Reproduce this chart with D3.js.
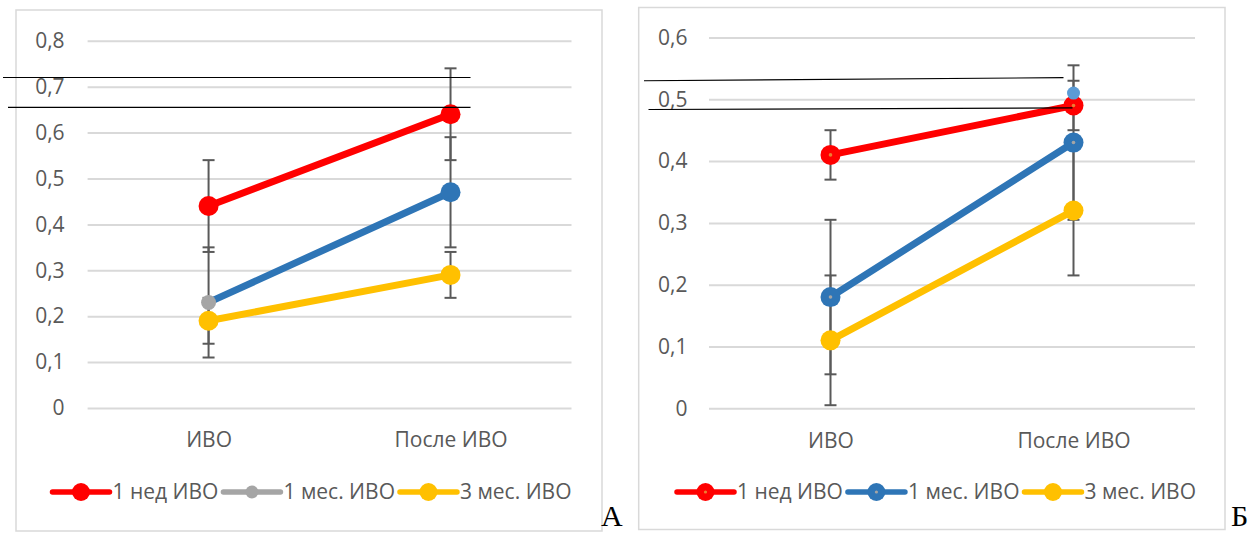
<!DOCTYPE html>
<html><head><meta charset="utf-8">
<script src="https://cdn.jsdelivr.net/npm/d3@7"></script>
<style>
html,body{margin:0;padding:0;background:#fff;}
svg{display:block;}
.lbl{font-family:"Open Sans","Noto Sans",sans-serif;fill:#595959;}
</style></head><body>
<svg id="chart" width="1250" height="533"></svg>
<script>
// ---------- data ----------
const categories = ["ИВО", "После ИВО"];
const seriesNames = ["1 нед ИВО", "1 мес. ИВО", "3 мес. ИВО"];
const panelLabels = ["А", "Б"];

// Panel A
const aTicks = [0, 0.1, 0.2, 0.3, 0.4, 0.5, 0.6, 0.7, 0.8];
const aTickLabels = ["0", "0,1", "0,2", "0,3", "0,4", "0,5", "0,6", "0,7", "0,8"];
const aWeek1 = [0.44, 0.64];
const aMonth1 = [0.23, 0.47];
const aMonth3 = [0.19, 0.29];
const aErrWeek1 = [0.10, 0.10];
const aErrMonth1 = [0.12, 0.12];
const aErrMonth3 = [0.05, 0.05];
const aRefLines = [[0.720, 0.720], [0.655, 0.655]];

// Panel B
const bTicks = [0, 0.1, 0.2, 0.3, 0.4, 0.5, 0.6];
const bTickLabels = ["0", "0,1", "0,2", "0,3", "0,4", "0,5", "0,6"];
const bWeek1 = [0.41, 0.49];
const bMonth1 = [0.18, 0.43];
const bMonth3 = [0.11, 0.32];
const bErrWeek1 = [0.04, 0.04];
const bErrMonth1 = [0.125, 0.125];
const bErrMonth3 = [0.105, 0.105];
const bExtra = [null, 0.51];
const bRefLines = [[0.530, 0.535], [0.4835, 0.486]];

// ---------- style ----------
const RED = "#ff0000", BLUE = "#2e75b6", GRAY = "#a5a5a5", YELLOW = "#ffc000", LIGHTBLUE = "#5b9bd5";
const FONT = 21;

const svg = d3.select("#chart");
svg.append("rect").attr("width", 1250).attr("height", 533).attr("fill", "#fff");

function drawPanel(cfg) {
  const g = svg.append("g");
  // frame
  g.append("rect").attr("x", cfg.frame[0]).attr("y", cfg.frame[1])
    .attr("width", cfg.frame[2] - cfg.frame[0]).attr("height", cfg.frame[3] - cfg.frame[1])
    .attr("fill", "none").attr("stroke", "#d9d9d9").attr("stroke-width", 1.5);

  const x = d3.scalePoint().domain(categories).range([cfg.plot[0], cfg.plot[1]]).padding(0.5);
  const y = d3.scaleLinear().domain([0, cfg.ticks[cfg.ticks.length - 1]]).range([cfg.plot[3], cfg.plot[2]]);
  const W = cfg.plot[1] - cfg.plot[0];

  // gridlines + tick labels
  const ya = g.append("g").attr("transform", `translate(${cfg.plot[0]},0)`)
    .call(d3.axisLeft(y).tickValues(cfg.ticks).tickSize(-W).tickPadding(cfg.tickPad)
      .tickFormat((d, i) => cfg.tickLabels[i]));
  ya.select(".domain").remove();
  ya.selectAll("line").attr("stroke", "#d9d9d9").attr("stroke-width", 2);
  ya.selectAll("text").attr("class", "lbl").attr("font-size", FONT).attr("fill", "#595959")
    .attr("font-family", null);

  // category labels
  const xa = g.append("g").attr("transform", `translate(0,${cfg.plot[3]})`)
    .call(d3.axisBottom(x).tickSize(0).tickPadding(0));
  xa.select(".domain").remove();
  xa.selectAll("text").attr("class", "lbl").attr("font-size", FONT).attr("fill", "#595959")
    .attr("font-family", null).attr("y", 32).attr("dy", "0.35em");

  // error bars
  const cap = 6;
  cfg.series.forEach(s => {
    s.values.forEach((v, i) => {
      const cx = x(categories[i]);
      const lo = y(v - s.err[i]), hi = y(v + s.err[i]);
      const eg = g.append("g").attr("stroke", "#595959").attr("stroke-width", 2);
      eg.append("line").attr("x1", cx).attr("x2", cx).attr("y1", lo).attr("y2", hi);
      eg.append("line").attr("x1", cx - cap).attr("x2", cx + cap).attr("y1", lo).attr("y2", lo);
      eg.append("line").attr("x1", cx - cap).attr("x2", cx + cap).attr("y1", hi).attr("y2", hi);
    });
  });

  // lines
  const line = d3.line().x((d, i) => x(categories[i])).y(d => y(d));
  cfg.series.forEach(s => {
    g.append("path").attr("d", line(s.values)).attr("fill", "none")
      .attr("stroke", s.lineColor).attr("stroke-width", 7).attr("stroke-linecap", "round");
  });
  // markers
  cfg.series.forEach(s => {
    s.values.forEach((v, i) => {
      const cx = x(categories[i]), cy = y(v);
      g.append("circle").attr("cx", cx).attr("cy", cy).attr("r", s.markerR[i]).attr("fill", s.markerColor[i]);
      if (s.dot) g.append("circle").attr("cx", cx).attr("cy", cy).attr("r", 1.8).attr("fill", s.dot);
    });
  });
  if (cfg.extra) {
    cfg.extra.forEach((v, i) => {
      if (v == null) return;
      g.append("circle").attr("cx", x(categories[i])).attr("cy", y(v)).attr("r", 6.5).attr("fill", LIGHTBLUE);
    });
  }

  // annotation lines
  cfg.refLines.forEach((r, k) => {
    g.append("line").attr("x1", cfg.refX[k][0]).attr("x2", x(categories[1]) + cfg.refX[k][1])
      .attr("y1", y(r[0])).attr("y2", y(r[1])).attr("stroke", "#000").attr("stroke-width", 1.2);
  });

  // legend
  const lg = g.append("g").attr("transform", `translate(0,${cfg.legendY})`);
  const items = [];
  let cursor = 0;
  const lineLen = 57;
  seriesNames.forEach((name, k) => {
    const it = lg.append("g");
    const s = cfg.legend[k];
    it.append("line").attr("x1", 0).attr("x2", lineLen).attr("y1", 0).attr("y2", 0)
      .attr("stroke", s.color).attr("stroke-width", 5.5).attr("stroke-linecap", "round");
    it.append("circle").attr("cx", lineLen / 2).attr("cy", 0).attr("r", s.r).attr("fill", s.color);
    if (s.dot) it.append("circle").attr("cx", lineLen / 2).attr("cy", 0).attr("r", 1.6).attr("fill", s.dot);
    const t = it.append("text").attr("class", "lbl").attr("font-size", FONT)
      .attr("x", lineLen + 3).attr("y", 0).attr("dy", "0.35em").text(name);
    const w = lineLen + 3 + t.node().getComputedTextLength();
    items.push({ it, w });
  });
  const gap = 5;
  const total = d3.sum(items, d => d.w) + gap * (items.length - 1);
  cursor = cfg.legendCX - total / 2;
  items.forEach(d => { d.it.attr("transform", `translate(${cursor},0)`); cursor += d.w + gap; });

  // panel letter
  svg.append("text").attr("x", cfg.letterX).attr("y", 526)
    .attr("font-family", "'Liberation Serif','Times New Roman',serif").attr("font-size", 30)
    .attr("fill", "#000").text(cfg.letter);
}

drawPanel({
  frame: [16, 10, 602, 531],
  plot: [87.6, 571.5, 40.8, 408],
  ticks: aTicks, tickLabels: aTickLabels, tickPad: 23,
  series: [
    { values: aWeek1, err: aErrWeek1, lineColor: RED, markerColor: [RED, RED], markerR: [10, 10] },
    { values: aMonth1, err: aErrMonth1, lineColor: BLUE, markerColor: [GRAY, BLUE], markerR: [7.5, 10] },
    { values: aMonth3, err: aErrMonth3, lineColor: YELLOW, markerColor: [YELLOW, YELLOW], markerR: [10, 10] }
  ],
  refLines: aRefLines, refX: [[3, 20], [8, 20]],
  legend: [{ color: RED, r: 9 }, { color: GRAY, r: 6.5 }, { color: YELLOW, r: 9 }],
  legendY: 492, legendCX: 312,
  letter: panelLabels[0], letterX: 601
});

drawPanel({
  frame: [638.7, 7.5, 1225, 529.5],
  plot: [709, 1195, 37.5, 408.3],
  ticks: bTicks, tickLabels: bTickLabels, tickPad: 21.5,
  series: [
    { values: bWeek1, err: bErrWeek1, lineColor: RED, markerColor: [RED, RED], markerR: [10, 10], dot: "#ed7d31" },
    { values: bMonth1, err: bErrMonth1, lineColor: BLUE, markerColor: [BLUE, BLUE], markerR: [10, 10], dot: "#a5a5a5" },
    { values: bMonth3, err: bErrMonth3, lineColor: YELLOW, markerColor: [YELLOW, YELLOW], markerR: [10, 10] }
  ],
  extra: bExtra,
  refLines: bRefLines, refX: [[644, -10], [648.5, -1]],
  legend: [{ color: RED, r: 9, dot: "#ed7d31" }, { color: BLUE, r: 9, dot: "#a5a5a5" }, { color: YELLOW, r: 9 }],
  legendY: 492, legendCX: 936.5,
  letter: panelLabels[1], letterX: 1231
});
</script>
</body></html>
